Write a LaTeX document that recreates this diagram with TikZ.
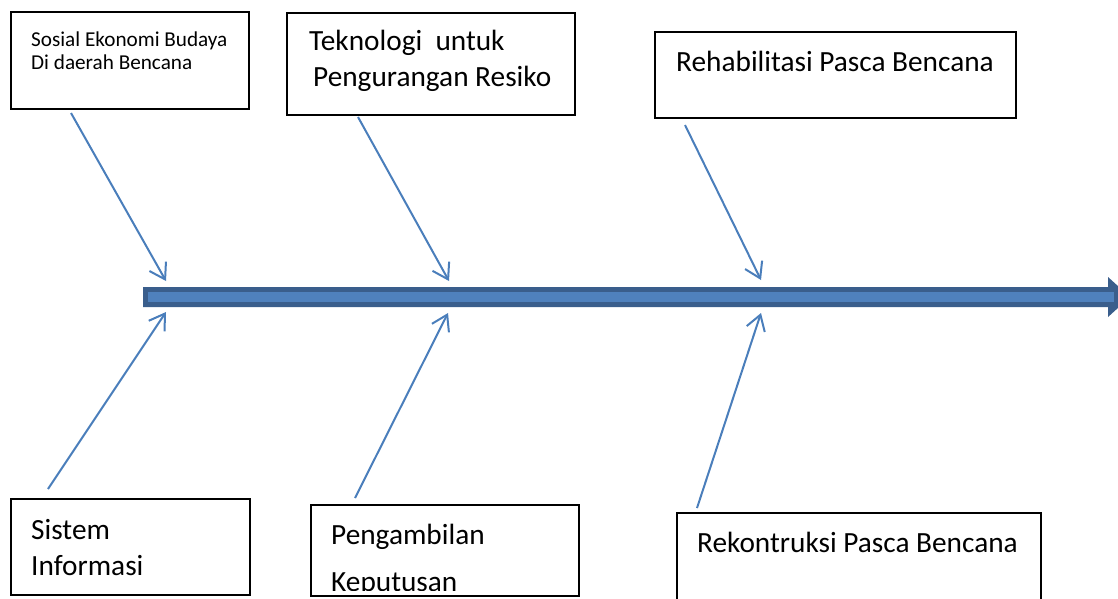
\documentclass[tikz,border=0pt]{standalone}
\usepackage{fontspec}
\setmainfont{Carlito}
\usetikzlibrary{arrows.meta}

\definecolor{branchblue}{HTML}{4A7EBB}
\definecolor{spinedark}{HTML}{3A5E8C}
\definecolor{spinelight}{HTML}{4F81BD}

\tikzset{
  box/.style={draw=black, line width=1.2pt, fill=white, anchor=north west,
              inner sep=0pt, outer sep=0pt},
  smalltxt/.style={anchor=base west, inner sep=0pt, font=\fontsize{21.2}{23}\selectfont},
  bigtxt/.style={anchor=base west, inner sep=0pt, font=\fontsize{29.3}{35}\selectfont},
  branch/.style={draw=branchblue, line width=2pt,
                 -{Straight Barb[length=15pt, width=19pt, line width=2pt]}},
}

\begin{document}
\begin{tikzpicture}[x=1pt, y=-1pt]
\useasboundingbox (0,0) rectangle (1118,598);
\clip (0,0) rectangle (1118,598);

% cause boxes, upper row
\node[box, minimum width=238pt, minimum height=97pt]  (sosial) at (11,12) {};
\node[box, minimum width=288pt, minimum height=102pt] (tekno)  at (287,13) {};
\node[box, minimum width=361pt, minimum height=86pt]  (rehab)  at (655,32) {};

% cause boxes, lower row
\node[box, minimum width=239pt, minimum height=96pt] (sistem) at (11,499) {};
\node[box, minimum width=268pt, minimum height=91pt] (ambil)  at (311,505) {};
\node[box, minimum width=364pt, minimum height=100pt] (rekon) at (677,513) {};

% labels
\node[smalltxt] (sosialA) at (31,46) {Sosial Ekonomi Budaya};
\node[smalltxt] (sosialB) at (31,69) {Di daerah Bencana};
\node[bigtxt] (teknoA) at (309,50) {Teknologi\ \ untuk};
\node[bigtxt] (teknoB) at (313,86) {Pengurangan Resiko};
\node[bigtxt] (rehabA) at (676,71) {Rehabilitasi Pasca Bencana};
\node[bigtxt] (sistemA) at (31,539) {Sistem};
\node[bigtxt] (sistemB) at (31,575) {Informasi};
\node[bigtxt] (ambilA) at (331,544) {Pengambilan};
\begin{scope}
  \clip (312,506) rectangle (578,590);
  \node[bigtxt] (ambilB) at (331,591) {Keputusan};
\end{scope}
\node[bigtxt] (rekonA) at (697,552) {Rekontruksi Pasca Bencana};

% main spine: dark block arrow with a light core
\coordinate (spineL) at (143,297);
\coordinate (spineR) at (1108,297);
\fill[spinedark] (143,287) -- (1108,287) -- (1108,277) -- (1130,297)
      -- (1108,317) -- (1108,307) -- (143,307) -- cycle;
\fill[spinelight] (148,292) rectangle (1114,302);

% branch end points
\coordinate (t1s) at (71,113);  \coordinate (t1e) at (166,281);
\coordinate (t2s) at (358,117); \coordinate (t2e) at (449,281);
\coordinate (t3s) at (685,125); \coordinate (t3e) at (761,280);
\coordinate (b1s) at (48,489);  \coordinate (b1e) at (166,312);
\coordinate (b2s) at (355,498); \coordinate (b2e) at (448,313);
\coordinate (b3s) at (697,508); \coordinate (b3e) at (761,313);

\draw[branch] (t1s) -- (t1e);
\draw[branch] (t2s) -- (t2e);
\draw[branch] (t3s) -- (t3e);
\draw[branch] (b1s) -- (b1e);
\draw[branch] (b2s) -- (b2e);
\draw[branch] (b3s) -- (b3e);
\end{tikzpicture}
\end{document}
